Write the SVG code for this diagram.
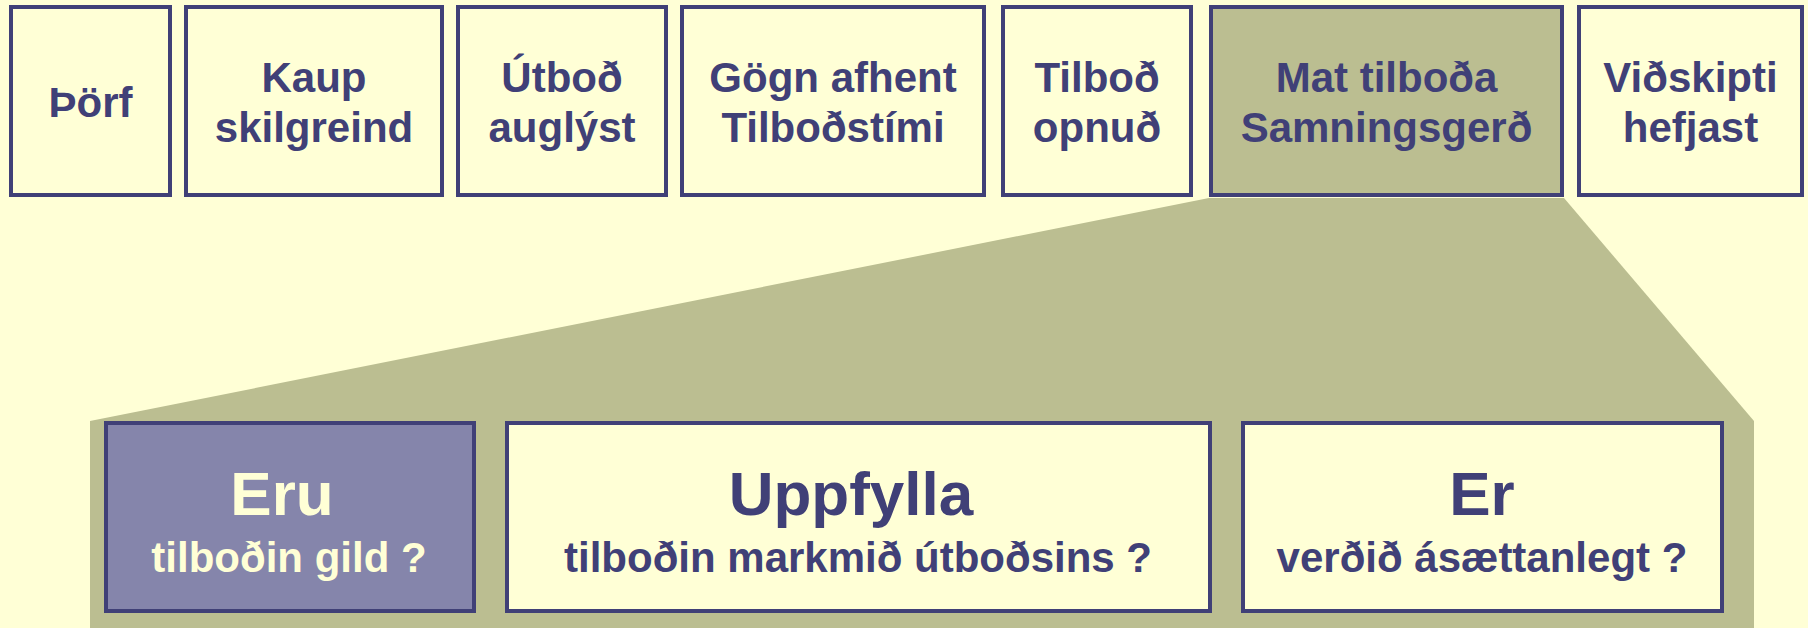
<svg xmlns="http://www.w3.org/2000/svg" width="1808" height="628" viewBox="0 0 1808 628">
<style>
.bg{fill:#FFFFD6}
.box{fill:#FFFFD6;stroke:#404077;stroke-width:4}
.sel{fill:#BBBE91;stroke:#404077;stroke-width:4}
.pur{fill:#8585AB;stroke:#404077;stroke-width:4}
.zoom{fill:#BBBE91}
text{font-family:"Liberation Sans",Arial,sans-serif;font-weight:bold;text-anchor:middle;fill:#404077}
.t{font-size:42px}
.big{font-size:62px}
.lt{fill:#FFFFD6}
</style>
<rect class="bg" x="0" y="0" width="1808" height="628"/>
<g id="connectors">
<polygon class="zoom" points="1209,198 1564,198 1754,421 1754,628 90,628 90,421"/>
</g>
<g id="n1"><rect class="box" x="11" y="7" width="159" height="188"/><text class="t" x="90.5" y="116.7">Þörf</text></g>
<g id="n2"><rect class="box" x="186" y="7" width="256" height="188"/><text class="t" x="314" y="91.7">Kaup</text><text class="t" x="314" y="141.7">skilgreind</text></g>
<g id="n3"><rect class="box" x="458" y="7" width="208" height="188"/><text class="t" x="562" y="91.7">Útboð</text><text class="t" x="562" y="141.7">auglýst</text></g>
<g id="n4"><rect class="box" x="682" y="7" width="302" height="188"/><text class="t" x="833" y="91.7">Gögn afhent</text><text class="t" x="833" y="141.7">Tilboðstími</text></g>
<g id="n5"><rect class="box" x="1003" y="7" width="188" height="188"/><text class="t" x="1097" y="91.7">Tilboð</text><text class="t" x="1097" y="141.7">opnuð</text></g>
<g id="n6"><rect class="sel" x="1211" y="7" width="351" height="188"/><text class="t" x="1386.5" y="91.7">Mat tilboða</text><text class="t" x="1386.5" y="141.7">Samningsgerð</text></g>
<g id="n7"><rect class="box" x="1579" y="7" width="223" height="188"/><text class="t" x="1690.5" y="91.7">Viðskipti</text><text class="t" x="1690.5" y="141.7">hefjast</text></g>
<g id="b1"><rect class="pur" x="106" y="423" width="368" height="188"/><text class="big lt" x="282" y="515">Eru</text><text class="t lt" x="289" y="571.7">tilboðin gild ?</text></g>
<g id="b2"><rect class="box" x="507" y="423" width="703" height="188"/><text class="big" x="851" y="515">Uppfylla</text><text class="t" x="858" y="571.7">tilboðin markmið útboðsins ?</text></g>
<g id="b3"><rect class="box" x="1243" y="423" width="479" height="188"/><text class="big" x="1482" y="515">Er</text><text class="t" x="1482" y="571.7">verðið ásættanlegt ?</text></g>
</svg>
